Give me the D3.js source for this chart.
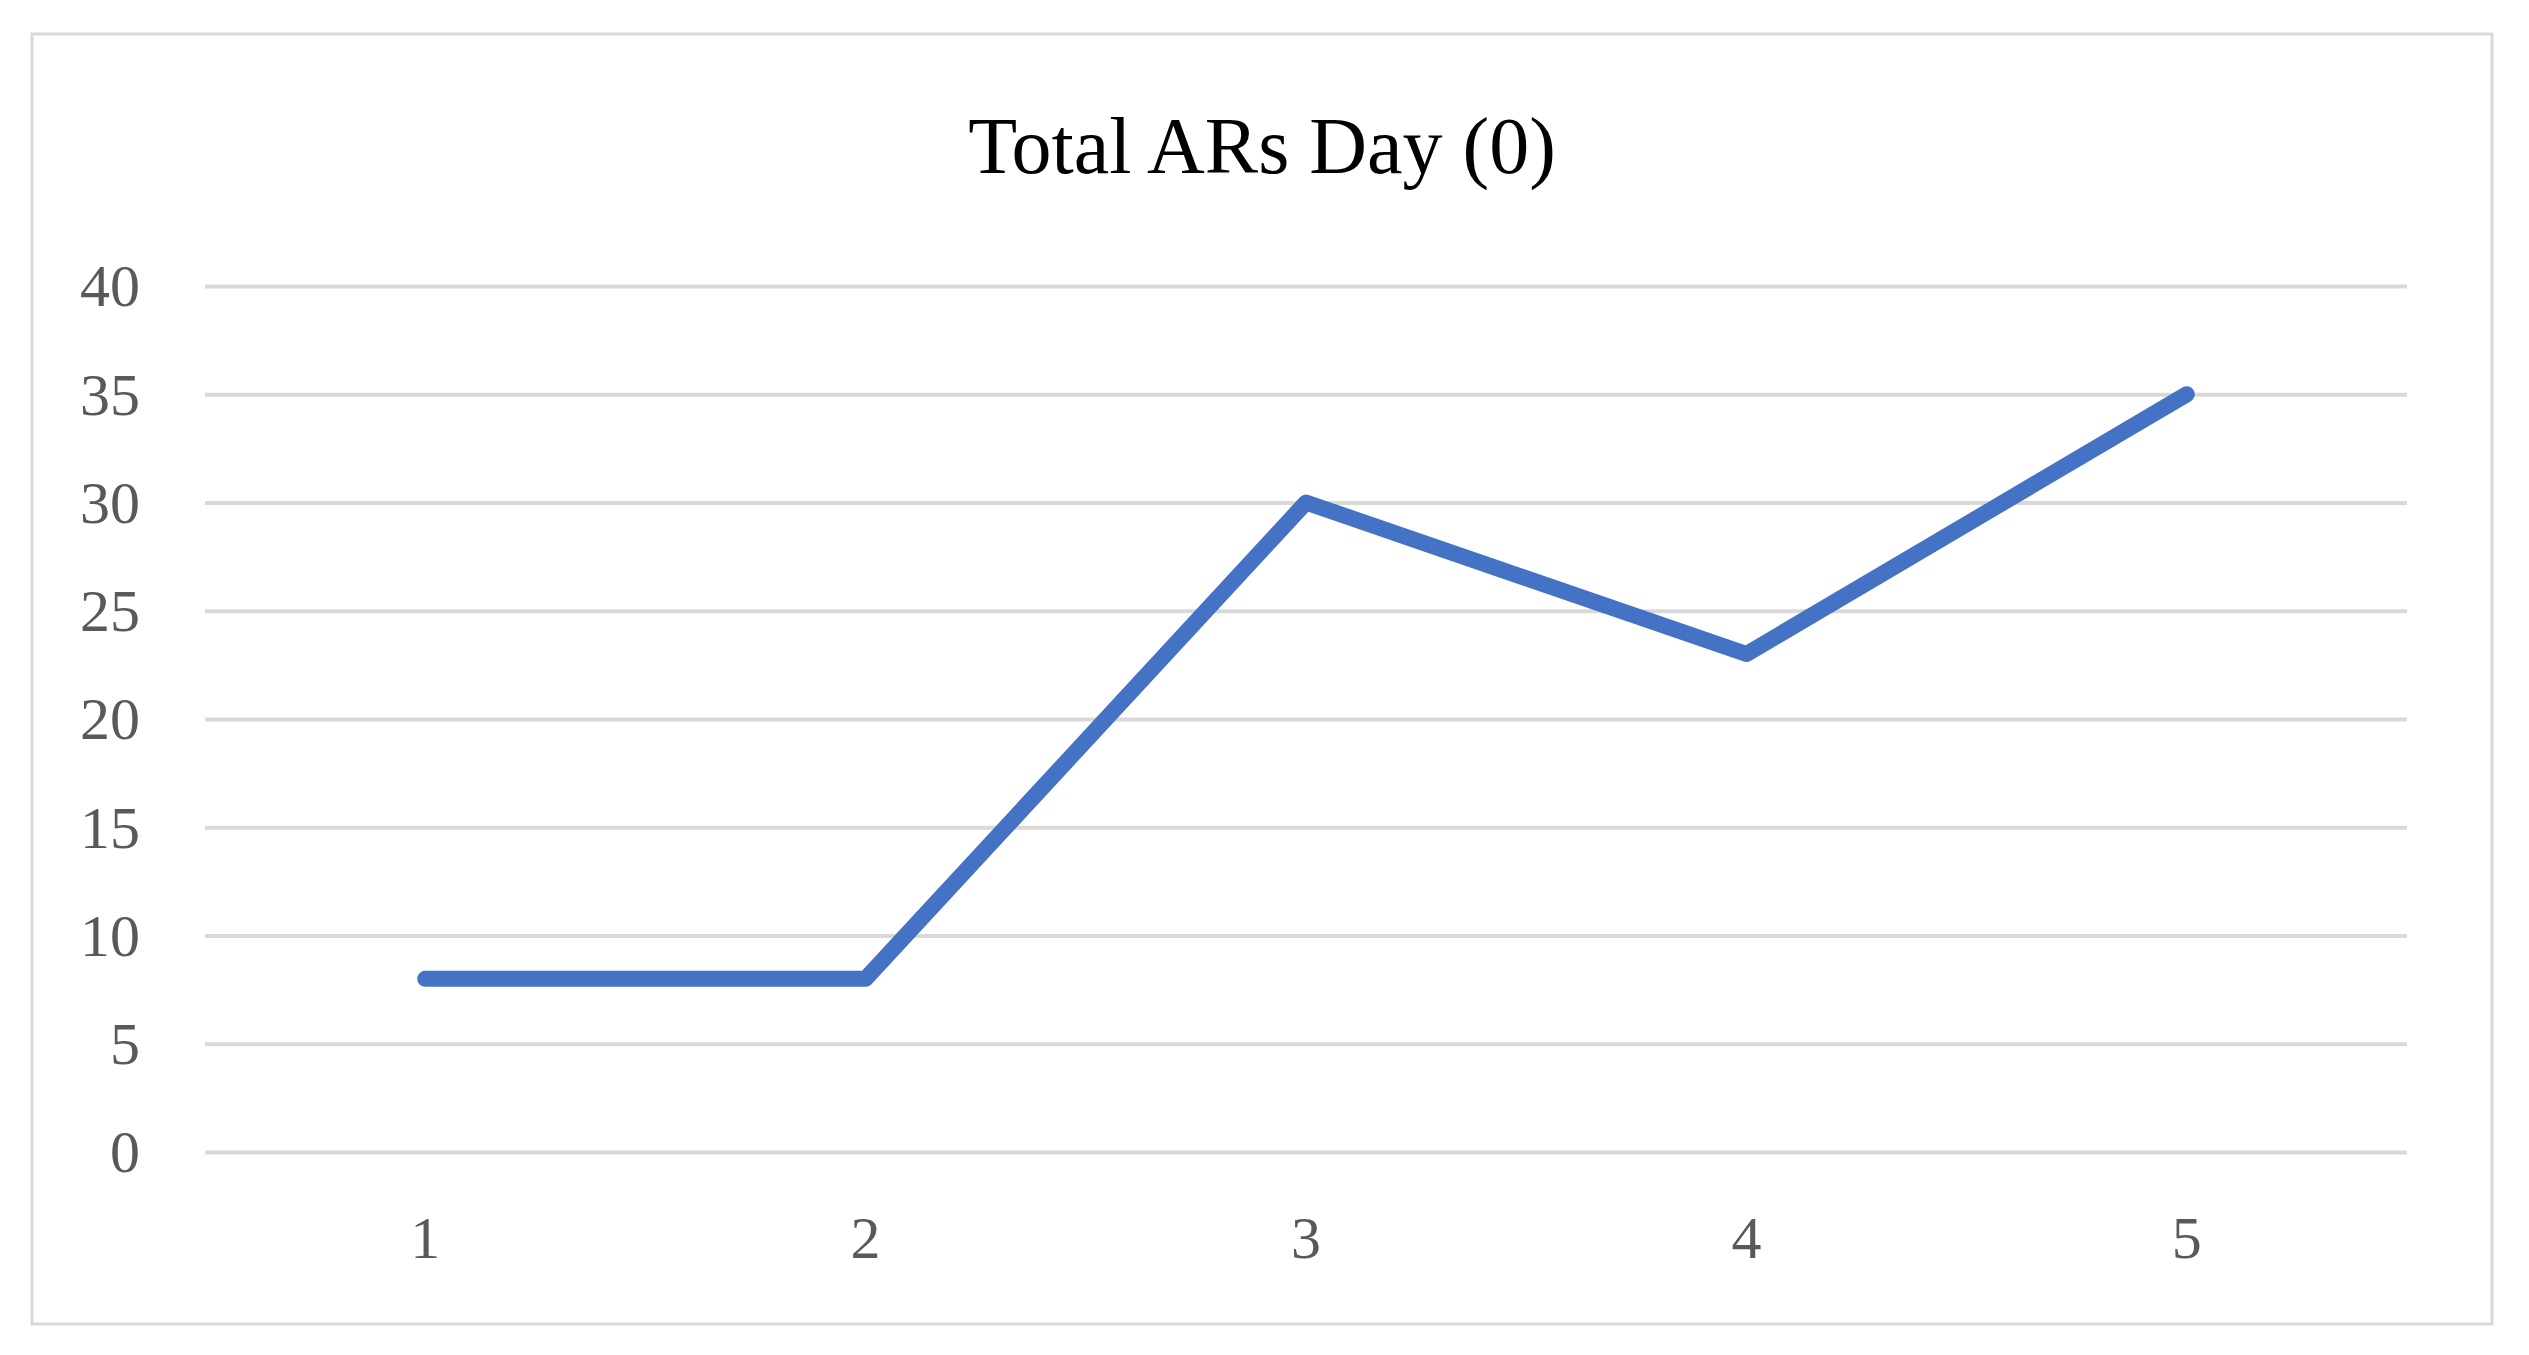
<!DOCTYPE html>
<html>
<head>
<meta charset="utf-8">
<script src="https://cdn.jsdelivr.net/npm/d3@7"></script>
<style>
  html, body { margin: 0; padding: 0; background: #ffffff; }
  svg { display: block; }
</style>
</head>
<body>
<script>
const titleText = "Total ARs Day (0)";
const categories = ["1", "2", "3", "4", "5"];
const values = [8, 8, 30, 23, 35];
const yTicks = [0, 5, 10, 15, 20, 25, 30, 35, 40];

const W = 2529, H = 1355;
const frame = { x: 32, y: 34, w: 2460, h: 1290 };
const plot = { left: 205, right: 2407, top: 286, bottom: 1152 };
const FONT = "'Liberation Serif', 'Times New Roman', serif";

const svg = d3.select("body").append("svg")
  .attr("width", W).attr("height", H);

svg.append("rect").attr("width", W).attr("height", H).attr("fill", "#ffffff");

svg.append("rect")
  .attr("x", frame.x).attr("y", frame.y)
  .attr("width", frame.w).attr("height", frame.h)
  .attr("fill", "#ffffff").attr("stroke", "#d9d9d9").attr("stroke-width", 3);

const x = d3.scaleBand().domain(categories).range([plot.left, plot.right]).padding(0);
const y = d3.scaleLinear().domain([0, 40]).range([plot.bottom, plot.top]);

// gridlines
const yAxis = d3.axisLeft(y).tickValues(yTicks)
  .tickSize(-(plot.right - plot.left)).tickPadding(65).tickFormat(d3.format("d"));
const gy = svg.append("g").attr("transform", `translate(${plot.left},0)`).call(yAxis);
gy.select(".domain").remove();
gy.selectAll(".tick line").attr("stroke", "#d9d9d9").attr("stroke-width", 4);
gy.selectAll(".tick text")
  .attr("fill", "#595959").attr("font-family", FONT).attr("font-size", 60)
  .attr("dy", "0.33em");

// x axis labels
const xAxis = d3.axisBottom(x).tickSize(0).tickPadding(0);
const gx = svg.append("g").attr("transform", `translate(0,${plot.bottom})`).call(xAxis);
gx.select(".domain").remove();
gx.selectAll(".tick text")
  .attr("fill", "#595959").attr("font-family", FONT).attr("font-size", 60)
  .attr("y", 106).attr("dy", 0);

// line
const line = d3.line()
  .x((d, i) => x(categories[i]) + x.bandwidth() / 2)
  .y(d => y(d));
svg.append("path").datum(values)
  .attr("d", line)
  .attr("fill", "none").attr("stroke", "#4472C4")
  .attr("stroke-width", 16)
  .attr("stroke-linecap", "round").attr("stroke-linejoin", "round");

// title
svg.append("text")
  .attr("x", frame.x + frame.w / 2).attr("y", 173)
  .attr("text-anchor", "middle")
  .attr("font-family", FONT).attr("font-size", 80)
  .attr("fill", "#000000")
  .text(titleText);
</script>
</body>
</html>
